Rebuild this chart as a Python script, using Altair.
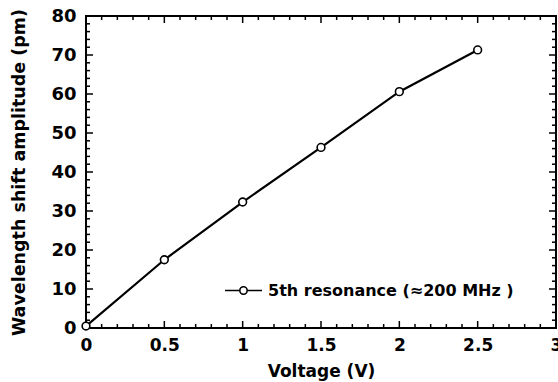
import altair as alt
import pandas as pd

voltage = [0.0, 0.5, 1.0, 1.5, 2.0, 2.5]
shift = [0.5, 17.5, 32.3, 46.3, 60.6, 71.3]
series_name = "5th resonance (≈200 MHz )"

x_major = [0, 0.5, 1, 1.5, 2, 2.5, 3]
x_minor = [0.1, 0.2, 0.3, 0.4, 0.6, 0.7, 0.8, 0.9, 1.1, 1.2, 1.3, 1.4,
           1.6, 1.7, 1.8, 1.9, 2.1, 2.2, 2.3, 2.4, 2.6, 2.7, 2.8, 2.9]
y_major = [0, 10, 20, 30, 40, 50, 60, 70, 80]
y_minor = [2, 4, 6, 8, 12, 14, 16, 18, 22, 24, 26, 28, 32, 34, 36, 38,
           42, 44, 46, 48, 52, 54, 56, 58, 62, 64, 66, 68, 72, 74, 76, 78]

df = pd.DataFrame({"V": voltage, "S": shift, "series": [series_name] * len(voltage)})

FONT = "DejaVu Sans"
W, H = 470, 312
MAJ, MIN = 7, 4

xs = alt.Scale(domain=[0, 3], nice=False, zero=False)
ys = alt.Scale(domain=[0, 80], nice=False, zero=False)

x_axis = alt.Axis(values=x_major, format="~g", ticks=False, domain=False, grid=False,
                  labelFont=FONT, labelFontWeight="bold", labelFontSize=17, labelColor="black",
                  labelPadding=9, labelFlush=False, labelOverlap=False,
                  title="Voltage  (V)", titleFont=FONT, titleFontWeight="bold", titleFontSize=17,
                  titleColor="black", titlePadding=10)
y_axis = alt.Axis(values=y_major, format="d", ticks=False, domain=False, grid=False,
                  labelFont=FONT, labelFontWeight="bold", labelFontSize=18, labelColor="black",
                  labelPadding=10, labelFlush=False, labelOverlap=False,
                  title="Wavelength shift amplitude (pm)", titleFont=FONT, titleFontWeight="bold",
                  titleFontSize=17.5, titleColor="black", titlePadding=22)

legend_path = ("M-1,0 L-0.24,0 M0.24,0 L1,0 "
               "M-0.2,0 A0.2,0.2 0 1,1 0.2,0 A0.2,0.2 0 1,1 -0.2,0 Z")

base = alt.Chart(df)

line = base.mark_line(strokeWidth=2.2).encode(
    x=alt.X("V:Q", scale=xs, axis=x_axis),
    y=alt.Y("S:Q", scale=ys, axis=y_axis),
    color=alt.Color("series:N", scale=alt.Scale(range=["black"]),
                    legend=alt.Legend(title=None, orient="none", legendX=138, legendY=255,
                                      symbolType=legend_path, symbolSize=1369,
                                      symbolStrokeColor="black", symbolFillColor="white",
                                      symbolStrokeWidth=1.6, labelOffset=5,
                                      labelFont=FONT, labelFontWeight="bold", labelFontSize=16,
                                      labelColor="black", labelLimit=400, padding=0)),
)

points = base.mark_point(shape="circle", filled=True, fill="white", stroke="black",
                         strokeWidth=1.6, size=60, opacity=1).encode(
    x=alt.X("V:Q", scale=xs, axis=None),
    y=alt.Y("S:Q", scale=ys, axis=None),
)

TICK_COLOR = "black"
TICK_W = 1.5


def xticks(values, length):
    d = pd.DataFrame({"t": values})
    bottom = alt.Chart(d).mark_rule(color=TICK_COLOR, strokeWidth=TICK_W).encode(
        x=alt.X("t:Q", scale=xs, axis=None), y=alt.value(H), y2=alt.value(H - length))
    top = alt.Chart(d).mark_rule(color=TICK_COLOR, strokeWidth=TICK_W).encode(
        x=alt.X("t:Q", scale=xs, axis=None), y=alt.value(0), y2=alt.value(length))
    return [bottom, top]


def yticks(values, length):
    d = pd.DataFrame({"t": values})
    left = alt.Chart(d).mark_rule(color=TICK_COLOR, strokeWidth=TICK_W).encode(
        y=alt.Y("t:Q", scale=ys, axis=None), x=alt.value(0), x2=alt.value(length))
    right = alt.Chart(d).mark_rule(color=TICK_COLOR, strokeWidth=TICK_W).encode(
        y=alt.Y("t:Q", scale=ys, axis=None), x=alt.value(W), x2=alt.value(W - length))
    return [left, right]


tick_layers = xticks(x_major, MAJ) + xticks(x_minor, MIN) + yticks(y_major, MAJ) + yticks(y_minor, MIN)

chart = (
    alt.layer(line, *tick_layers, points)
    .resolve_axis(x="independent", y="independent")
    .properties(width=W, height=H, background="white",
                autosize=alt.AutoSizeParams(type="none"),
                padding={"left": 86, "top": 16, "right": 2, "bottom": 54})
    .configure_view(stroke="black", strokeWidth=2)
)

chart.save("out.html", embed_options={"renderer": "svg", "actions": False})
